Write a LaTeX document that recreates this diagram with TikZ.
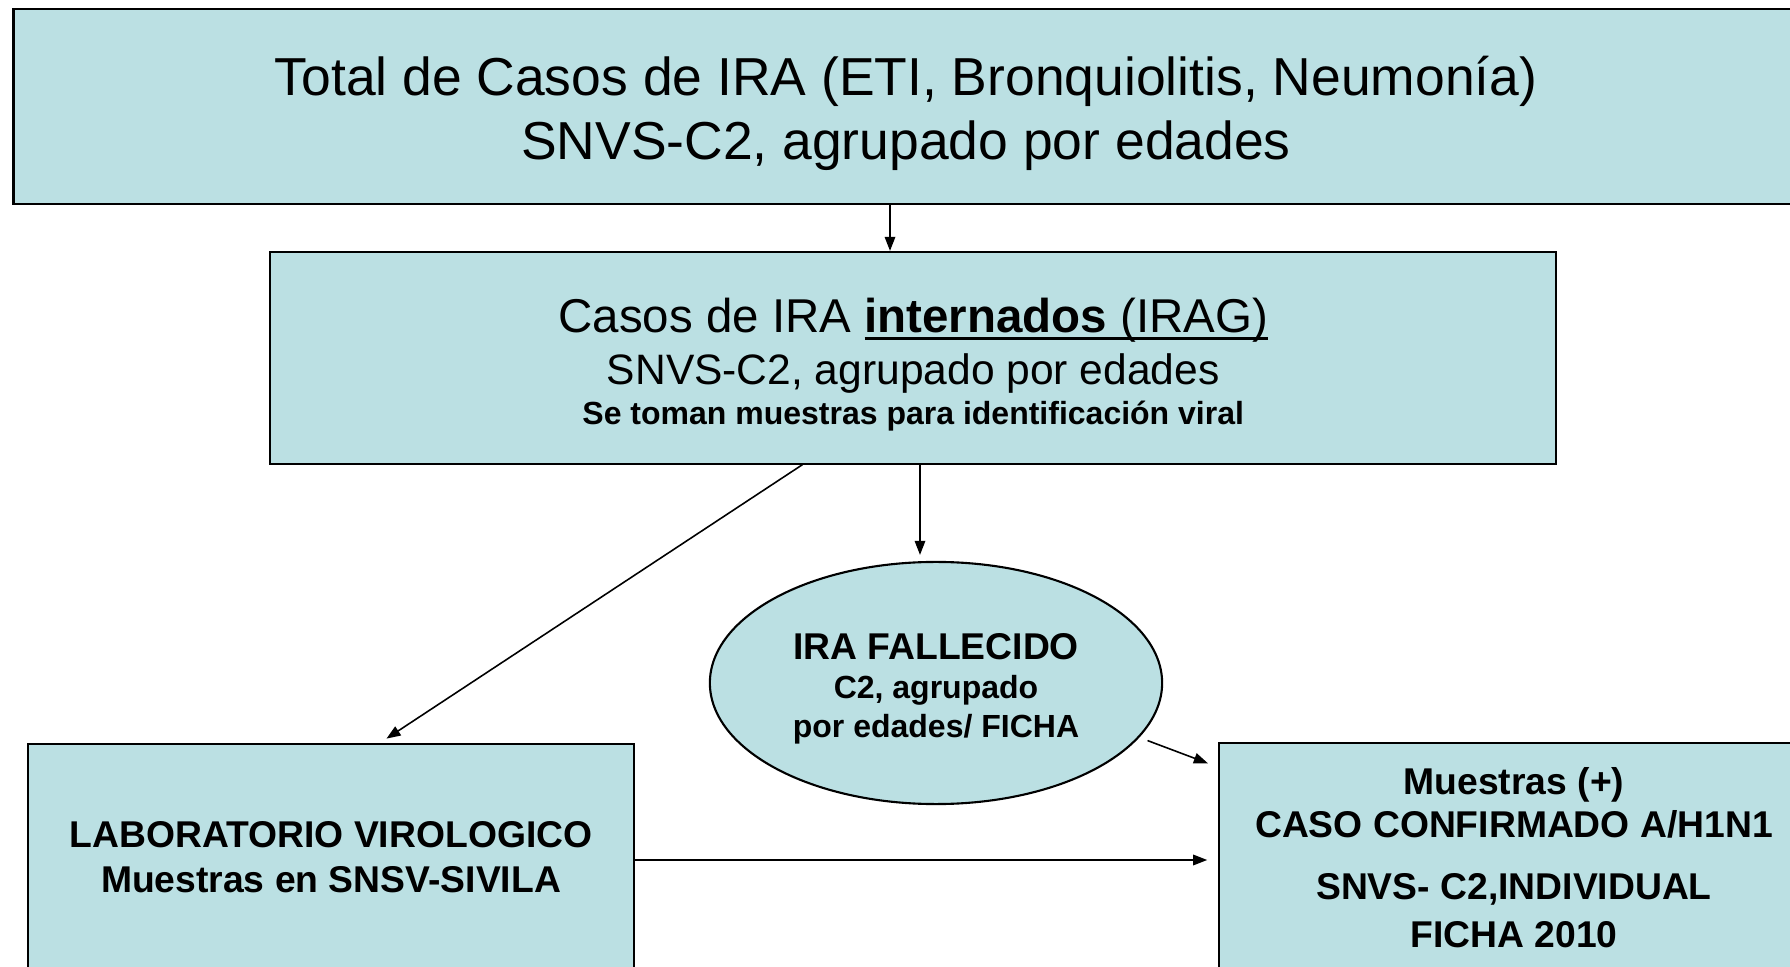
\documentclass[tikz,border=0pt]{standalone}
\usepackage{fontspec}
\setmainfont{Liberation Sans}
\usetikzlibrary{arrows.meta,shapes.geometric,positioning}
\definecolor{boxfill}{RGB}{187,224,227}
\newcommand\ulmark[1]{\setbox0\hbox{#1}\rlap{\vrule height -0.11em depth 0.17em width \wd0}\box0}
\newcommand\topstrut[1]{\rule{0pt}{#1}}

\begin{document}
\begin{tikzpicture}[->,>={Triangle[length=4pt,width=3pt]},x=0.01cm,y=-0.01cm,line width=0.45pt,
    box/.style={rectangle, draw, fill=boxfill, line width=0.6pt, align=center, inner sep=0pt},
    oval/.style={ellipse, draw, fill=boxfill, line width=0.6pt, align=center, inner sep=0pt}]
    \useasboundingbox (0,0) rectangle (1790,967);
    \clip (0,0) rectangle (1790,967);

    \node [box, minimum width=17.84cm, minimum height=1.95cm, font=\fontsize{15.2}{18.2}\selectfont](total) at (906,106.5)
        {\topstrut{15pt}Total de Casos de IRA (ETI, Bronquiolitis, Neumonía)\\SNVS-C2, agrupado por edades};
    \node [box, minimum width=12.855cm, minimum height=2.115cm, font=\fontsize{13.5}{14.8}\selectfont](irag) at (913.25,357.75)
        {\topstrut{13.7pt}Casos de IRA \ulmark{\textbf{internados} (IRAG)}\\
         \fontsize{12.1}{14.8}\selectfont SNVS-C2, agrupado por edades\\[-3.2pt]
         \fontsize{9.1}{14.8}\selectfont\bfseries Se toman muestras para identificación viral};
    \node [oval, minimum width=4.52cm, minimum height=2.42cm, font=\bfseries\fontsize{10.6}{11.1}\selectfont](fallecido) at (936,683)
        {\topstrut{10.8pt}IRA FALLECIDO\\\fontsize{9.1}{11.1}\selectfont C2, agrupado\\\fontsize{9.1}{11.1}\selectfont por edades/ FICHA};
    \node [box, minimum width=6.05cm, minimum height=2.26cm, font=\bfseries\fontsize{10.6}{12.9}\selectfont](lab) at (331,857)
        {LABORATORIO VIROLOGICO\\Muestras en SNSV-SIVILA};
    \node [box, minimum width=5.9cm, minimum height=2.29cm, font=\bfseries\fontsize{10.6}{12.2}\selectfont](confirmado) at (1514,857.5)
        {Muestras (+)\\CASO CONFIRMADO A/H1N1\\[5.4pt]SNVS- C2,INDIVIDUAL\\[1.5pt]FICHA 2010};

    % arrow positions
    \coordinate (a1) at (890,0);
    \coordinate (a2) at (920,0);
    \coordinate (a3) at (802.5,0);
    \coordinate (a4) at (380,0);
    \coordinate (a5) at (0,860);
    \coordinate (a6) at (0,767);

    \draw (total.south -| a1) -- (irag.north -| a1);
    \draw [shorten >=1.7pt] (irag.south -| a2) -- (fallecido.north -| a2);
    \draw [shorten >=2.2pt] (irag.south -| a3) -- (lab.north -| a4);
    \draw [shorten >=3pt] (lab.east |- a5) -- (confirmado.west |- a5);
    \draw [shorten <=2.5pt, shorten >=3pt] (fallecido.-15) -- (confirmado.west |- a6);
\end{tikzpicture}
\end{document}
